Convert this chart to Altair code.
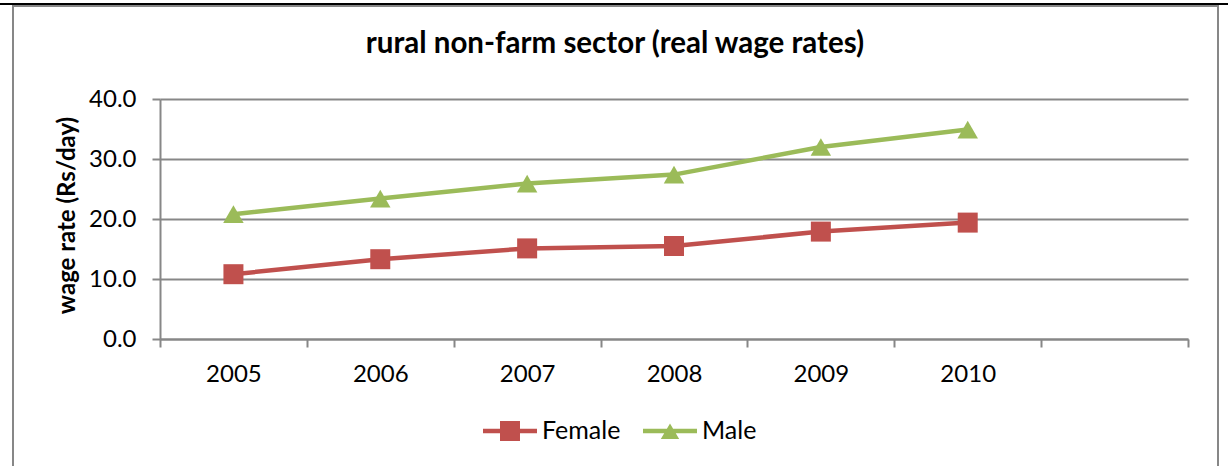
import altair as alt
import pandas as pd

years = ["2005", "2006", "2007", "2008", "2009", "2010"]
female = [10.8, 13.3, 15.1, 15.5, 17.9, 19.4]
male = [20.8, 23.4, 25.9, 27.4, 32.0, 34.9]
series = ["Female", "Male"]
colors = ["#C0504D", "#9BBB59"]
x_domain = years + [" "]
y_ticks = [0, 10, 20, 30, 40]

rows = []
for s, vals in zip(series, [female, male]):
    for yr, v in zip(years, vals):
        rows.append({"year": yr, "value": v, "series": s})
df = pd.DataFrame(rows)

FONT = "Lato"
GRAY = "#878787"

x = alt.X(
    "year:N",
    bandPosition=0.5,
    scale=alt.Scale(type="band", domain=x_domain, paddingInner=0, paddingOuter=0),
    axis=alt.Axis(
        title=None, tickBand="extent", labelAngle=0, labelFontSize=24,
        labelPadding=15, tickSize=8, grid=False, domainColor=GRAY,
        tickColor=GRAY, domainWidth=2, tickWidth=2, labelColor="black",
        labelFont=FONT,
    ),
)
y = alt.Y(
    "value:Q",
    scale=alt.Scale(domain=[0, 40], nice=False, zero=True),
    axis=alt.Axis(
        values=y_ticks, format=".1f", title="wage rate (Rs/day)",
        titleFontSize=24, titleFontWeight="bold", titleFont=FONT,
        titleX=-93, titleY=116, titleAngle=270, titleAlign="center",
        titleBaseline="middle", titleColor="black",
        grid=True, gridColor=GRAY, gridWidth=2, domainColor=GRAY,
        domainWidth=2, tickColor=GRAY, tickWidth=2, tickSize=8,
        labelPadding=16, labelFontSize=24, labelFont=FONT, labelColor="black",
    ),
)

fem_path = "M-1,-0.085 L1,-0.085 L1,0.085 L-1,0.085 Z M-0.37,-0.37 L0.37,-0.37 L0.37,0.37 L-0.37,0.37 Z"
male_path = "M-1,-0.085 L1,-0.085 L1,0.085 L-1,0.085 Z M-0.34,0.3 L0,-0.28 L0.34,0.3 Z"


def make_legend(path, lx):
    return alt.Legend(
        title=None, orient="none", legendX=lx, legendY=305, direction="horizontal",
        symbolType=path, symbolSize=2916, symbolStrokeWidth=0, symbolOpacity=1,
        labelFontSize=25, labelFont=FONT, labelColor="black",
        labelOffset=5, padding=0,
    )


base = alt.Chart(df)

fem = base.transform_filter(alt.datum.series == series[0])
male_c = base.transform_filter(alt.datum.series == series[1])

fem_line = fem.mark_line(strokeWidth=4.5, strokeJoin="round", strokeCap="round", color=colors[0]).encode(x=x, y=y)
male_line = male_c.mark_line(strokeWidth=4.5, strokeJoin="round", strokeCap="round", color=colors[1]).encode(x=x, y=y)

fem_pts = fem.mark_point(filled=True, size=400, opacity=1, shape="square").encode(
    x=x, y=y,
    color=alt.Color("series:N", scale=alt.Scale(domain=[series[0]], range=[colors[0]]),
                    legend=make_legend(fem_path, 323)),
)
male_pts = male_c.mark_point(filled=True, size=420, opacity=1, shape="triangle-up").encode(
    x=x, y=y,
    fill=alt.Fill("series:N", scale=alt.Scale(domain=[series[1]], range=[colors[1]]),
                  legend=make_legend(male_path, 483)),
)

one = pd.DataFrame({"k": [0]})
border = alt.Chart(one).mark_rect(fillOpacity=0, stroke=GRAY, strokeWidth=2).encode(
    x=alt.value(-147), x2=alt.value(1058), y=alt.value(-93), y2=alt.value(420)
)
topline = alt.Chart(one).mark_rule(color="black", strokeWidth=2).encode(
    x=alt.value(-160), x2=alt.value(1068), y=alt.value(-95)
)

chart = alt.layer(border, topline, fem_line, male_line, fem_pts, male_pts).properties(
    width=1028, height=240,
    title=alt.Title(
        "rural non-farm sector (real wage rates)", fontSize=29.5, fontWeight="bold",
        font=FONT, anchor="middle", frame="group", dx=-59, offset=-79,
        baseline="alphabetic", color="black",
    ),
    autosize=alt.AutoSizeParams(type="none"),
    padding={"left": 160, "top": 99, "right": 40, "bottom": 127},
    background="white",
).configure_view(stroke=None)

chart.save("out.html", embed_options={"renderer": "svg", "actions": False})
